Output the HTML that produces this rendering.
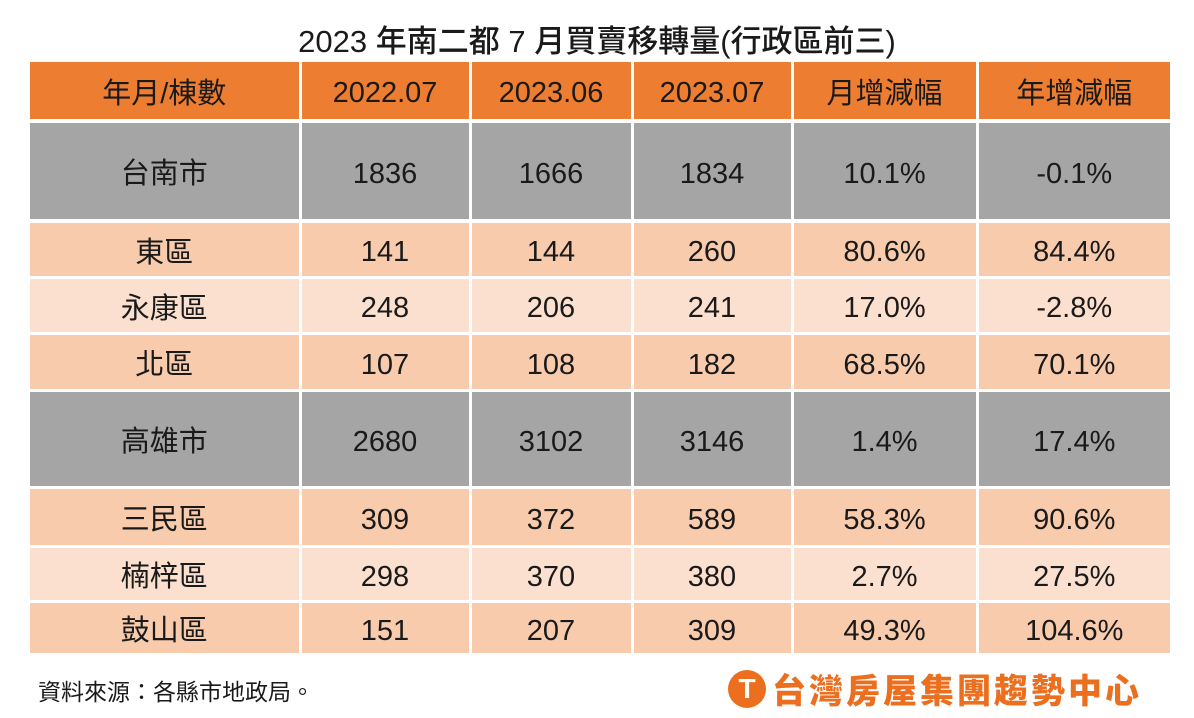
<!DOCTYPE html>
<html><head><meta charset="utf-8"><style>
body{margin:0;width:1194px;height:718px;background:#fff;position:relative;overflow:hidden;font-family:"Liberation Sans","Noto Sans CJK TC",sans-serif;color:#1a1a1a}
.t{position:absolute;left:0;width:1194px;top:16px;text-align:center;font-size:31px;font-weight:500}
.c{position:absolute;display:flex;align-items:center;justify-content:center;font-size:29px;box-sizing:border-box;padding-top:6px}
.c.z{padding-top:0}
.f{position:absolute;left:38px;top:673px;font-size:23px}
.logo{position:absolute;left:728px;top:664px;display:flex;align-items:center;color:#ec6f1f;font-weight:900;font-size:34px;letter-spacing:3px}
.ic{width:38px;height:38px;border-radius:50%;background:#ec6f1f;color:#fff;font-size:28px;display:flex;align-items:center;justify-content:center;margin-right:6px;letter-spacing:0}
</style></head><body>
<div class="t">2023 年南二都 7 月買賣移轉量(行政區前三)</div>
<div id="tb"></div>
<div class="f">資料來源：各縣市地政局。</div>
<div class="logo"><div class="ic">T</div>台灣房屋集團趨勢中心</div>
<script>
const xs=[30,300,470,632,792,977,1170];
const rows=[
[62,119,'#ED7D31',['年月/棟數','2022.07','2023.06','2023.07','月增減幅','年增減幅']],
[123,219,'#A5A5A5',['台南市','1836','1666','1834','10.1%','-0.1%']],
[223,276,'#F8CBAD',['東區','141','144','260','80.6%','84.4%']],
[279,332,'#FBE0CF',['永康區','248','206','241','17.0%','-2.8%']],
[335,389,'#F8CBAD',['北區','107','108','182','68.5%','70.1%']],
[392,486,'#A5A5A5',['高雄市','2680','3102','3146','1.4%','17.4%']],
[489,545,'#F8CBAD',['三民區','309','372','589','58.3%','90.6%']],
[548,600,'#FBE0CF',['楠梓區','298','370','380','2.7%','27.5%']],
[603,653,'#F8CBAD',['鼓山區','151','207','309','49.3%','104.6%']]];
let h='';
for(const [y0,y1,bg,cells] of rows){for(let i=0;i<6;i++){const l=xs[i]+(i?1.5:0),r=xs[i+1]-(i<5?1.5:0);
const z=/^[\d.%-]+$/.test(cells[i])?'':' z';
h+=`<div class="c${z}" style="left:${l}px;top:${y0}px;width:${r-l}px;height:${y1-y0}px;background:${bg}">${cells[i]}</div>`;}}
document.getElementById('tb').innerHTML=h;
</script>
</body></html>
